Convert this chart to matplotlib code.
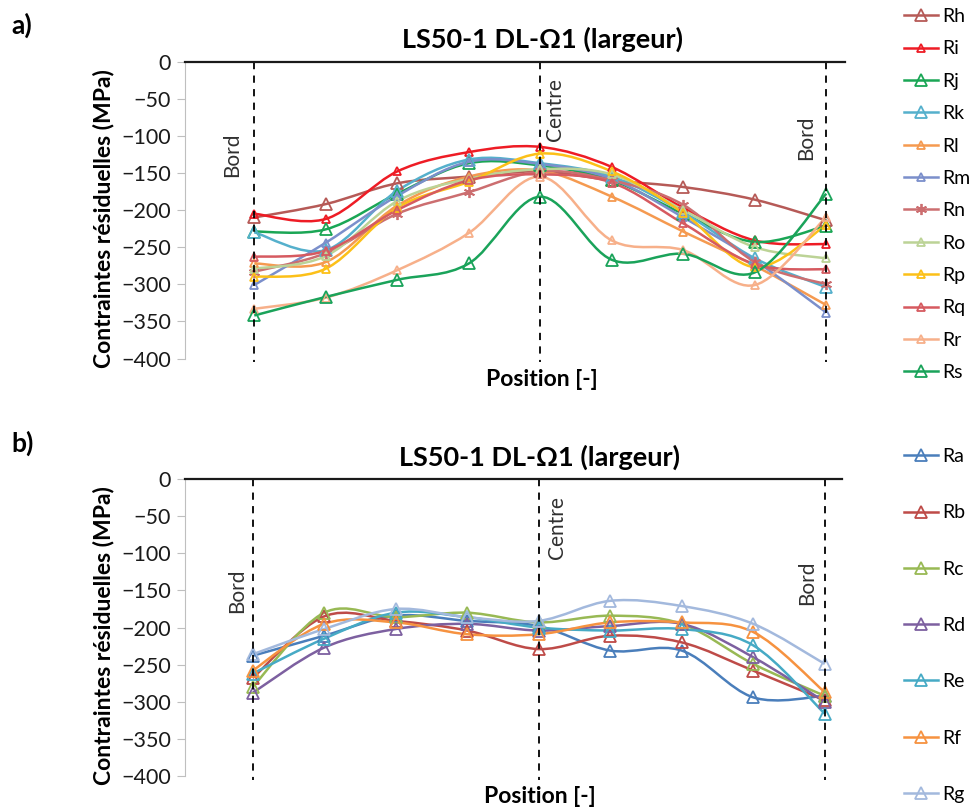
import numpy as np
import matplotlib.pyplot as plt
from matplotlib.path import Path
from matplotlib.patches import PathPatch
from matplotlib.lines import Line2D

plt.rcParams['font.family'] = ['Lato', 'DejaVu Sans']

# measuring points across the width (Bord - Centre - Bord)
positions = [0, 1, 2, 3, 4, 5, 6, 7, 8]
y_ticks = [0, -50, -100, -150, -200, -250, -300, -350, -400]
title = 'LS50-1 DL-\u03a91 (largeur)'

# panel a) residual stresses (MPa)
rh = [-210, -192, -164, -155, -148, -160, -169, -186, -214]
ri = [-205, -212, -148, -122, -115, -142, -197, -241, -246]
rj = [-229, -226, -178, -137, -140, -160, -205, -243, -221]
rk = [-230, -254, -174, -132, -137, -155, -203, -265, -304]
rl = [-272, -270, -194, -155, -147, -182, -229, -275, -328]
rm = [-301, -244, -181, -135, -138, -158, -210, -268, -338]
rn = [-283, -258, -205, -176, -148, -160, -193, -270, -300]
ro = [-279, -262, -188, -158, -145, -152, -200, -250, -265]
rp = [-290, -279, -197, -162, -124, -148, -204, -277, -220]
rq = [-263, -255, -200, -160, -152, -163, -218, -273, -280]
rr = [-333, -318, -281, -231, -155, -241, -254, -301, -209]
rs = [-342, -317, -294, -272, -182, -267, -259, -284, -178]

# panel b)
ra = [-238, -211, -184, -191, -198, -231, -231, -294, -292]
rb = [-268, -185, -191, -204, -229, -211, -220, -258, -298]
rc = [-280, -180, -186, -180, -193, -184, -195, -249, -292]
rd = [-288, -227, -202, -195, -204, -198, -195, -240, -300]
re_ = [-262, -215, -180, -186, -200, -204, -202, -224, -316]
rf = [-258, -195, -193, -209, -209, -193, -193, -206, -287]
rg = [-236, -202, -175, -186, -191, -164, -171, -195, -249]

names_a = ['Rh', 'Ri', 'Rj', 'Rk', 'Rl', 'Rm', 'Rn', 'Ro', 'Rp', 'Rq', 'Rr', 'Rs']
values_a = [rh, ri, rj, rk, rl, rm, rn, ro, rp, rq, rr, rs]
names_b = ['Ra', 'Rb', 'Rc', 'Rd', 'Re', 'Rf', 'Rg']
values_b = [ra, rb, rc, rd, re_, rf, rg]

# styles
colors_a = ['#b65a57', '#ee1c25', '#1aa655', '#55b0cc', '#f59a50', '#7b8fcb',
            '#cc6e70', '#bcd396', '#fcc018', '#d65a60', '#f7b08a', '#1aa35a']
markers_a = ['^', '^', '^', '^', '^', '^', (6, 2, 0), '^', '^', '^', '^', '^']
msizes_a = [9, 6, 9, 9, 6, 6, 8, 6, 6, 6, 6, 9]
colors_b = ['#4a7ebb', '#be4b48', '#98b954', '#7d60a0', '#46aac5', '#f69240', '#a3b9dd']


def smooth_path(x, y):
    # Excel-like smoothed line: cubic bezier through the points
    pts = np.column_stack([x, y]).astype(float)
    ext = np.vstack([pts[0], pts, pts[-1]])
    verts = [pts[0]]
    codes = [Path.MOVETO]
    for i in range(len(pts) - 1):
        p0, p1, p2, p3 = ext[i], ext[i + 1], ext[i + 2], ext[i + 3]
        verts += [p1 + (p2 - p0) / 6, p2 - (p3 - p1) / 6, p2]
        codes += [Path.CURVE4] * 3
    return Path(verts, codes)


def setup_axes(ax, xlim, label_pos, title_x):
    ax.set_xlim(*xlim)
    ax.set_ylim(-406, 3)
    for s in ['top', 'right', 'bottom']:
        ax.spines[s].set_visible(False)
    ax.spines['left'].set_bounds(-400, 0)
    ax.spines['left'].set_color('#bfbfbf')
    ax.axhline(0, color='#1a1a1a', lw=1.6, zorder=5, clip_on=False)
    ax.set_xticks([])
    ax.set_yticks(y_ticks)
    ax.tick_params(axis='y', direction='out', length=6, color='#bfbfbf',
                   labelsize=15.5, labelcolor='#1a1a1a', pad=4)
    ax.set_ylabel('Contraintes r\u00e9siduelles (MPa)', fontsize=16.5,
                  fontweight='bold', labelpad=5, y=0.477)
    ax.set_xlabel('Position [-]', fontsize=16.5, fontweight='bold',
                  labelpad=4, x=title_x)
    ax.set_title(title, fontsize=19.5, fontweight='bold', pad=8, x=title_x)
    for p in [positions[0], positions[4], positions[-1]]:
        ax.plot([p, p], [0, -405], color='black', lw=1.3,
                dashes=(4, 3.5), zorder=4)
    (bx0, by0), (cx, cy), (bx1, by1) = label_pos
    kw = dict(rotation=90, ha='center', va='center', fontsize=15, color='#303030')
    ax.text(positions[0] + bx0, by0, 'Bord', **kw)
    ax.text(positions[4] + cx, cy, 'Centre', **kw)
    ax.text(positions[-1] + bx1, by1, 'Bord', **kw)


def draw_series(ax, names, values, colors, markers, sizes):
    handles = []
    for name, vals, c, m, ms in zip(names, values, colors, markers, sizes):
        ax.add_patch(PathPatch(smooth_path(positions, vals), fill=False,
                               edgecolor=c, lw=1.8, zorder=2))
        ax.plot(positions, vals, linestyle='none', marker=m, ms=ms,
                mfc='none', mec=c, mew=1.3, zorder=3)
        handles.append(Line2D([], [], color=c, lw=1.8, marker=m, ms=ms,
                              mfc='none', mec=c, mew=1.3, label=name))
    return handles


fig = plt.figure(figsize=(9.75, 8.09), dpi=100)
ax_a = fig.add_axes([0.1897, 0.5513, 0.6770, 0.3754])
ax_b = fig.add_axes([0.1897, 0.0352, 0.6736, 0.3754])

setup_axes(ax_a, (-0.969, 8.262), [(-0.31, -126), (0.20, -65), (-0.28, -102)], 0.541)
setup_axes(ax_b, (-0.946, 8.237), [(-0.21, -150), (0.25, -65), (-0.25, -139)], 0.540)

h_a = draw_series(ax_a, names_a, values_a, colors_a, markers_a, msizes_a)
h_b = draw_series(ax_b, names_b, values_b, colors_b, ['^'] * 7, [9] * 7)

fig.legend(handles=h_a, loc='upper left', bbox_to_anchor=(0.927, 0.990),
           frameon=False, fontsize=14, handlelength=1.75, handletextpad=0.25,
           labelspacing=0.79, borderpad=0, borderaxespad=0)
fig.legend(handles=h_b, loc='upper left', bbox_to_anchor=(0.927, 0.446),
           frameon=False, fontsize=14, handlelength=1.75, handletextpad=0.25,
           labelspacing=2.02, borderpad=0, borderaxespad=0)

fig.text(0.012, 0.969, 'a)', fontsize=19, fontweight='bold', va='center')
fig.text(0.012, 0.452, 'b)', fontsize=19, fontweight='bold', va='center')

fig.savefig('out.png', dpi=100)
